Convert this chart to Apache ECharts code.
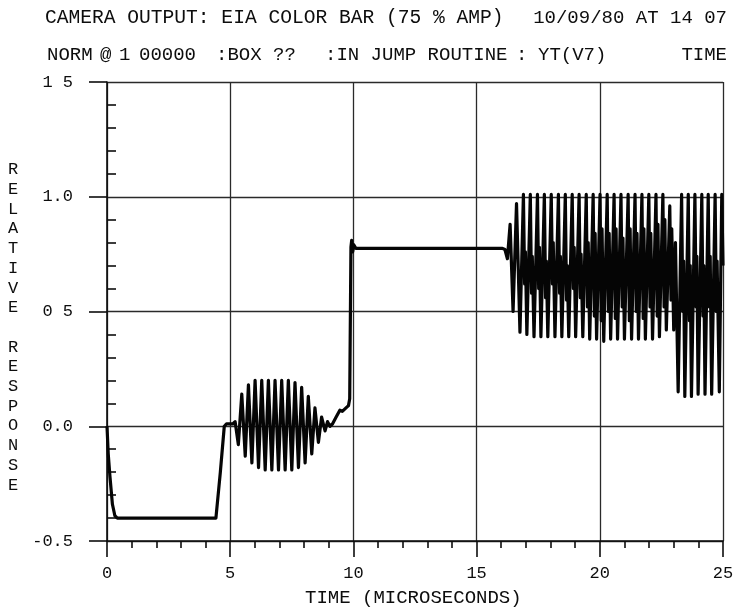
<!DOCTYPE html>
<html>
<head>
<meta charset="utf-8">
<script src="https://cdn.jsdelivr.net/npm/echarts@6/dist/echarts.min.js"></script>
<style>
  html, body { margin: 0; background: #fff; }
  #chart { width: 747px; height: 608px; }
</style>
</head>
<body>
<div id="chart"></div>
<script>
// tick labels as printed on the plot
const xTickLabels = ['0', '5', '10', '15', '20', '25'];
const yTickLabels = ['-0.5', '0.0', '0 5', '1.0', '1 5'];

// trace pieces, [time in microseconds, relative response]
const syncTrace = [
  [0, 0.0], [0.05, -0.12], [0.12, -0.22], [0.22, -0.34], [0.32, -0.39], [0.42, -0.40],
  [4.42, -0.40], [4.6, -0.2], [4.76, 0.0], [4.85, 0.01], [5.1, 0.01], [5.2, 0.02]
];
const burstTrace = [
  [5.33, -0.08], [5.47, 0.14], [5.61, -0.13], [5.74, 0.18], [5.88, -0.16], [6.01, 0.20],
  [6.15, -0.18], [6.28, 0.20], [6.42, -0.19], [6.55, 0.20], [6.69, -0.19], [6.82, 0.20],
  [6.96, -0.19], [7.09, 0.20], [7.23, -0.19], [7.36, 0.20], [7.50, -0.19], [7.63, 0.19],
  [7.77, -0.18], [7.90, 0.17], [8.04, -0.16], [8.17, 0.13], [8.31, -0.12], [8.44, 0.08],
  [8.58, -0.07], [8.71, 0.04], [8.85, -0.02], [8.95, 0.02], [9.05, 0.0]
];
const stepTrace = [
  [9.15, 0.01], [9.3, 0.04], [9.45, 0.07], [9.55, 0.065], [9.7, 0.08], [9.8, 0.09],
  [9.85, 0.12], [9.9, 0.78], [9.93, 0.81], [9.97, 0.76], [10.02, 0.79], [10.1, 0.775],
  [12.0, 0.775], [14.0, 0.775], [16.05, 0.775]
];
const barsTrace = [
  [16.15, 0.77], [16.25, 0.73], [16.36, 0.88], [16.48, 0.50], [16.62, 0.97], [16.76, 0.41],
  [16.90, 1.01], [16.95, 0.62], [16.98, 0.76], [17.04, 0.40],
  [17.18, 1.01], [17.23, 0.58], [17.26, 0.74], [17.33, 0.39],
  [17.47, 1.01], [17.52, 0.60], [17.55, 0.78], [17.61, 0.39],
  [17.75, 1.01], [17.80, 0.56], [17.83, 0.72], [17.89, 0.39],
  [18.03, 1.01], [18.08, 0.62], [18.11, 0.80], [18.18, 0.39],
  [18.32, 1.01], [18.37, 0.58], [18.40, 0.74], [18.46, 0.39],
  [18.60, 1.01], [18.65, 0.55], [18.68, 0.70], [18.74, 0.39],
  [18.88, 1.01], [18.93, 0.60], [18.96, 0.78], [19.02, 0.39],
  [19.16, 1.01], [19.21, 0.56], [19.24, 0.75], [19.31, 0.39],
  [19.45, 1.01], [19.50, 0.52], [19.53, 0.80], [19.59, 0.38],
  [19.73, 1.01], [19.78, 0.48], [19.81, 0.84], [19.87, 0.38],
  [20.01, 1.01], [20.06, 0.46], [20.09, 0.86], [20.16, 0.37],
  [20.30, 1.01], [20.35, 0.50], [20.38, 0.84], [20.44, 0.38],
  [20.58, 1.01], [20.63, 0.47], [20.66, 0.86], [20.72, 0.38],
  [20.86, 1.01], [20.91, 0.52], [20.94, 0.82], [21.00, 0.38],
  [21.15, 1.01], [21.20, 0.46], [21.23, 0.86], [21.29, 0.38],
  [21.43, 1.01], [21.48, 0.50], [21.51, 0.84], [21.57, 0.38],
  [21.71, 1.01], [21.76, 0.47], [21.79, 0.86], [21.85, 0.38],
  [21.99, 1.01], [22.04, 0.52], [22.07, 0.84], [22.14, 0.38],
  [22.28, 1.01], [22.33, 0.48], [22.36, 0.88], [22.42, 0.39],
  [22.56, 1.01], [22.61, 0.52], [22.64, 0.90], [22.70, 0.42],
  [22.84, 0.96], [22.89, 0.55], [22.92, 0.86], [23.00, 0.42]
];
const tailTrace = [
  [23.07, 0.80], [23.18, 0.15],
  [23.32, 1.01], [23.37, 0.50], [23.40, 0.72], [23.45, 0.13],
  [23.59, 1.01], [23.64, 0.46], [23.67, 0.70], [23.72, 0.13],
  [23.86, 1.01], [23.91, 0.52], [23.94, 0.74], [23.99, 0.14],
  [24.14, 1.01], [24.19, 0.48], [24.22, 0.70], [24.27, 0.14],
  [24.40, 1.01], [24.45, 0.52], [24.48, 0.74], [24.54, 0.14],
  [24.68, 1.01], [24.73, 0.50], [24.76, 0.72], [24.85, 0.15],
  [24.95, 1.01], [25.0, 0.70]
];

const FONT = 'Liberation Mono';
const INK = '#0d0d0d';
const txt = (size) => size + 'px "Liberation Mono"';

const chart = echarts.init(document.getElementById('chart'));

const option = {
  animation: false,
  backgroundColor: '#fff',
  grid: { left: 107, right: 24, top: 82, bottom: 67 },
  xAxis: {
    type: 'value',
    min: 0,
    max: 25,
    interval: 5,
    axisLine: { onZero: false, lineStyle: { color: INK, width: 1.6 } },
    axisTick: { length: 16, lineStyle: { color: INK, width: 1.6 } },
    minorTick: { show: true, splitNumber: 5, length: 7, lineStyle: { color: INK, width: 1.6 } },
    splitLine: { show: true, lineStyle: { color: '#2a2a2a', width: 1.3 } },
    axisLabel: {
      margin: 24,
      color: INK,
      fontFamily: FONT,
      fontSize: 17,
      formatter: (v) => xTickLabels[Math.round(v / 5)]
    }
  },
  yAxis: {
    type: 'value',
    min: -0.5,
    max: 1.5,
    interval: 0.5,
    axisLine: { show: true, lineStyle: { color: INK, width: 1.6 } },
    axisTick: { show: true, length: 18, lineStyle: { color: INK, width: 1.6 } },
    minorTick: { show: true, splitNumber: 5, length: -9, lineStyle: { color: INK, width: 1.6 } },
    splitLine: { show: true, lineStyle: { color: '#2a2a2a', width: 1.3 } },
    axisLabel: {
      margin: 34,
      color: INK,
      fontFamily: FONT,
      fontSize: 17,
      formatter: (v) => yTickLabels[Math.round((v + 0.5) / 0.5)]
    }
  },
  series: [
    {
      type: 'line',
      data: [].concat(syncTrace, burstTrace, stepTrace, barsTrace, tailTrace),
      showSymbol: false,
      lineStyle: { color: '#050505', width: 3.2, join: 'round' }
    }
  ],
  graphic: [
    // header line 1
    { type: 'text', left: 45, top: 8,
      style: { text: 'CAMERA OUTPUT: EIA COLOR BAR (75 % AMP)', font: txt(19.6), fill: INK } },
    { type: 'text', right: 20, top: 8,
      style: { text: '10/09/80 AT 14 07', font: txt(19), fill: INK } },
    // header line 2
    { type: 'text', left: 47, top: 45, style: { text: 'NORM', font: txt(19), fill: INK } },
    { type: 'text', left: 100, top: 45, style: { text: '@', font: txt(19), fill: INK } },
    { type: 'text', left: 119, top: 45, style: { text: '1', font: txt(19), fill: INK } },
    { type: 'text', left: 139, top: 45, style: { text: '00000', font: txt(19), fill: INK } },
    { type: 'text', left: 216, top: 45, style: { text: ':BOX ??', font: txt(19), fill: INK } },
    { type: 'text', left: 325, top: 45, style: { text: ':IN JUMP ROUTINE', font: txt(19), fill: INK } },
    { type: 'text', left: 516, top: 45, style: { text: ':', font: txt(19), fill: INK } },
    { type: 'text', left: 538, top: 45, style: { text: 'YT(V7)', font: txt(19), fill: INK } },
    { type: 'text', right: 20, top: 45, style: { text: 'TIME', font: txt(19), fill: INK } },
    // y axis name, one letter per line
    { type: 'text', left: 8, top: 160,
      style: { text: 'R\nE\nL\nA\nT\nI\nV\nE\n\nR\nE\nS\nP\nO\nN\nS\nE',
               font: txt(17), fill: INK, lineHeight: 19.7 } },
    // x axis name
    { type: 'text', left: 305, top: 588,
      style: { text: 'TIME (MICROSECONDS)', font: txt(19), fill: INK } }
  ]
};

chart.setOption(option);
</script>
</body>
</html>
